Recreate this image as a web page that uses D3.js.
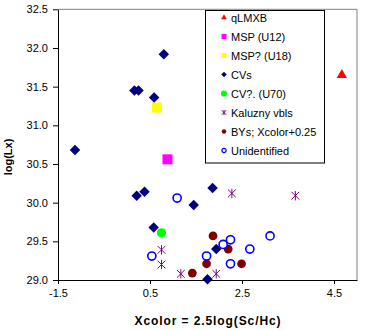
<!DOCTYPE html>
<html><head><meta charset="utf-8">
<script src="https://cdn.jsdelivr.net/npm/d3@7"></script>
<style>body{margin:0;background:#fff}svg{display:block}text{font-family:"Liberation Sans",Arial,sans-serif}</style>
</head><body><svg id="c" width="365" height="330"></svg>
<script>
const xTicks = [-1.5, 0.5, 2.5, 4.5];
const yTicks = [29.0, 29.5, 30.0, 30.5, 31.0, 31.5, 32.0, 32.5];

const qlmxbX = [4.67], qlmxbY = [31.65];
const mspX = [0.88], mspY = [30.56];
const msp2X = [0.65], msp2Y = [31.23];
const cvX = [0.80, 0.16, 0.25, 0.59, -1.13, 0.21, 0.38, 1.86, 1.45, 0.58, 1.94, 1.75];
const cvY = [31.92, 31.45, 31.45, 31.36, 30.68, 30.09, 30.14, 30.19, 29.97, 29.68, 29.40, 29.01];
const cv2X = [0.75], cv2Y = [29.61];
const kalX = [2.28, 3.66, 0.75, 0.75, 1.17, 1.94];
const kalY = [30.12, 30.09, 29.39, 29.20, 29.08, 29.08];
const byX = [1.87, 2.20, 1.73, 2.49, 1.42];
const byY = [29.57, 29.40, 29.21, 29.21, 29.09];
const unX = [1.09, 3.11, 2.67, 2.25, 2.09, 1.73, 2.25, 0.54];
const unY = [30.06, 29.57, 29.40, 29.52, 29.46, 29.31, 29.21, 29.31];

const names = ["qLMXB","MSP (U12)","MSP? (U18)","CVs","CV?. (U70)","Kaluzny vbls","BYs; Xcolor+0.25","Unidentified"];

const svg = d3.select("#c");
const x = d3.scaleLinear().domain([-1.5, 5.0]).range([58, 357]);
const y = d3.scaleLinear().domain([29, 32.5]).range([280, 9.3]);

// plot border (top/right gray)
svg.append("path").attr("d", `M${x(-1.5)},${y(32.5)}H${x(5)}V${y(29)}`)
  .attr("fill","none").attr("stroke","#808080").attr("stroke-width",1);

const yAxis = svg.append("g").attr("transform",`translate(${x(-1.5)},0)`)
  .call(d3.axisLeft(y).tickValues(yTicks).tickFormat(d=>d.toFixed(1)).tickSize(5).tickSizeOuter(0).tickPadding(5));
const xAxis = svg.append("g").attr("transform",`translate(0,${y(29)})`)
  .call(d3.axisBottom(x).tickValues(xTicks).tickFormat(d=>d.toFixed(1)).tickSize(4).tickSizeOuter(0).tickPadding(5));
[yAxis,xAxis].forEach(g=>{
  g.selectAll("text").attr("font-size",11).attr("fill","#000").attr("font-family","'Liberation Sans',Arial,sans-serif");
  g.selectAll("line,path").attr("stroke","#000");
});

svg.append("text").attr("x",208).attr("y",325).attr("text-anchor","middle")
  .attr("font-size",12).attr("font-weight","bold").attr("letter-spacing",0.9)
  .text("Xcolor = 2.5log(Sc/Hc)");
svg.append("text").attr("transform","translate(12,157) rotate(-90)").attr("text-anchor","middle")
  .attr("font-size",11).attr("font-weight","bold").text("log(Lx)");

const star = {draw(ctx,size){const r=Math.sqrt(size)/2;
  ctx.moveTo(-r,-r);ctx.lineTo(r,r);ctx.moveTo(r,-r);ctx.lineTo(-r,r);
  ctx.moveTo(0,-r*1.2);ctx.lineTo(0,r*1.2);}};
const diamond = {draw(ctx,size){const r=Math.sqrt(size)/2;
  ctx.moveTo(0,-r);ctx.lineTo(r,0);ctx.lineTo(0,r);ctx.lineTo(-r,0);ctx.closePath();}};

const series = [
  {xs:qlmxbX, ys:qlmxbY, type:d3.symbolTriangle, size:46, ls:14, fill:"#ff0000", stroke:"none"},
  {xs:mspX, ys:mspY, type:d3.symbolSquare, size:100, ls:25, fill:"#ff00ff", stroke:"none"},
  {xs:msp2X, ys:msp2Y, type:d3.symbolSquare, size:100, ls:25, fill:"#ffff00", stroke:"none"},
  {xs:cvX, ys:cvY, type:diamond, size:110, ls:30, fill:"#000080", stroke:"none"},
  {xs:cv2X, ys:cv2Y, type:diamond, size:100, ls:30, fill:"#00ff00", stroke:"none", circle:true},
  {xs:kalX, ys:kalY, type:star, size:60, ls:20, fill:"none", stroke:"#800080", sw:1},
  {xs:byX, ys:byY, type:d3.symbolCircle, size:60, ls:16, fill:"#800000", stroke:"none"},
  {xs:unX, ys:unY, type:d3.symbolCircle, size:52, ls:14, fill:"#fff", stroke:"#0000ff", sw:1.6, lsw:1.2}
];
series.forEach(s=>{
  const t = s.circle ? d3.symbolCircle : s.type;
  const sz = s.circle ? 68 : s.size;
  svg.append("g").selectAll("path").data(s.xs.map((v,i)=>[v,s.ys[i]])).join("path")
    .attr("transform",d=>`translate(${x(d[0])},${y(d[1])})`)
    .attr("d",d3.symbol().type(t).size(sz))
    .attr("fill",s.fill).attr("stroke",s.stroke).attr("stroke-width",s.sw||0);
});

// legend
const lg = svg.append("g");
lg.append("rect").attr("x",205.5).attr("y",10.5).attr("width",119).attr("height",152.5)
  .attr("fill","#fff").attr("stroke","#000").attr("stroke-width",1);
series.forEach((s,i)=>{
  const cy = 17.5 + i*19;
  lg.append("path").attr("transform",`translate(224,${cy})`)
    .attr("d",d3.symbol().type(s.circle?d3.symbolCircle:s.type).size(s.ls))
    .attr("fill",s.fill).attr("stroke",s.stroke).attr("stroke-width",s.lsw||s.sw||0);
  lg.append("text").attr("x",231).attr("y",cy+4).attr("font-size",11).text(names[i]);
});
</script></body></html>
